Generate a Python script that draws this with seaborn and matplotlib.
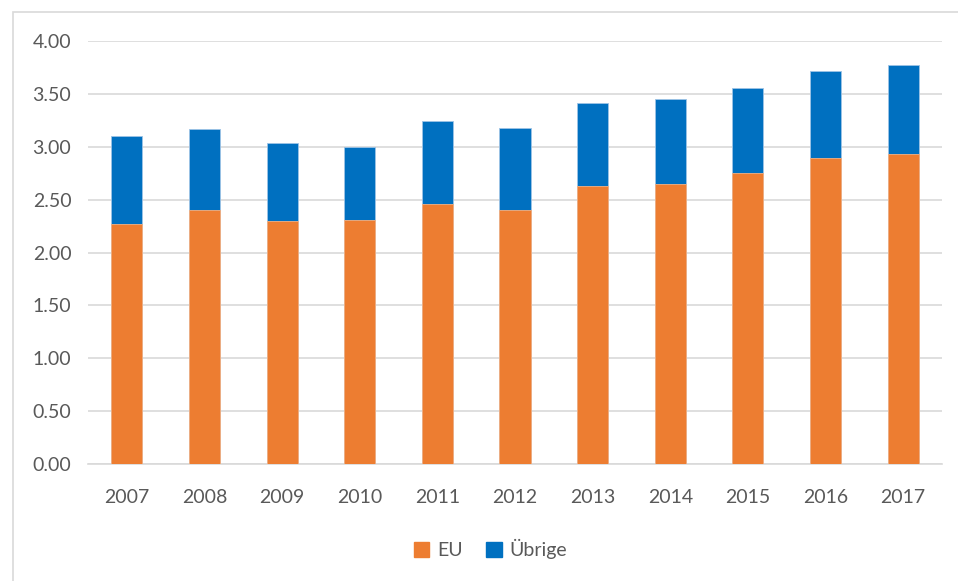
import numpy as np
import pandas as pd
import matplotlib
matplotlib.use("Agg")
import matplotlib.pyplot as plt
import matplotlib.patches as mpatches
import seaborn as sns

# Daten
jahre = ["2007", "2008", "2009", "2010", "2011", "2012", "2013", "2014", "2015", "2016", "2017"]
eu = [2.27, 2.40, 2.30, 2.31, 2.46, 2.40, 2.63, 2.65, 2.75, 2.89, 2.93]
uebrige = [0.83, 0.77, 0.74, 0.69, 0.78, 0.78, 0.78, 0.80, 0.81, 0.83, 0.84]

farbe_eu = "#ED7D31"
farbe_ueb = "#0070C0"
grau_text = "#595959"
grau_linie = "#D9D9D9"

df = pd.DataFrame({"Jahr": jahre, "EU": eu, "Übrige": uebrige})
df["Gesamt"] = df["EU"] + df["Übrige"]

sns.set_style("white")
plt.rcParams["font.family"] = ["Lato", "DejaVu Sans"]

fig = plt.figure(figsize=(9.58, 5.81), dpi=100)
ax = fig.add_axes([88 / 958, 1 - 464 / 581, (942 - 88) / 958, (464 - 41) / 581])

# gestapelt: zuerst Gesamt (blau), dann EU (orange) darüber
sns.barplot(data=df, x="Jahr", y="Gesamt", color=farbe_ueb, width=0.4,
            saturation=1, ax=ax, zorder=3, edgecolor="#9DC3E6", linewidth=0.6)
sns.barplot(data=df, x="Jahr", y="EU", color=farbe_eu, width=0.4,
            saturation=1, ax=ax, zorder=3, edgecolor="#F4B183", linewidth=0.6)

ax.set_ylim(0, 4)
ax.set_xlim(-0.5, len(jahre) - 0.5)
ax.set_yticks(np.arange(0, 4.01, 0.5))
ax.set_yticklabels([f"{v:.2f}" for v in np.arange(0, 4.01, 0.5)])
ax.yaxis.grid(True, color=grau_linie, linewidth=1.2, zorder=0)
ax.set_axisbelow(True)
ax.set_xlabel("")
ax.set_ylabel("")
for s in ["top", "right", "left"]:
    ax.spines[s].set_visible(False)
ax.spines["bottom"].set_color(grau_linie)
ax.spines["bottom"].set_linewidth(1.2)
ax.tick_params(axis="both", length=0, labelsize=14, colors=grau_text)
ax.tick_params(axis="y", pad=12)
ax.tick_params(axis="x", pad=18)

# Legende
handles = [mpatches.Patch(color=farbe_eu, label="EU"),
           mpatches.Patch(color=farbe_ueb, label="Übrige")]
fig.legend(handles=handles, loc="center", bbox_to_anchor=(0.512, 1 - 549 / 581),
           ncol=2, frameon=False, fontsize=14, labelcolor=grau_text,
           handlelength=0.8, handleheight=0.8, handletextpad=0.4, columnspacing=1.2)

# Rahmen um das Diagramm
fig.patches.append(mpatches.Rectangle((13 / 958, -0.01), 1.0, 1 - 12 / 581 + 0.01,
                                      transform=fig.transFigure, fill=False,
                                      edgecolor=grau_linie, linewidth=1.2))

fig.savefig("out.png", dpi=100)
